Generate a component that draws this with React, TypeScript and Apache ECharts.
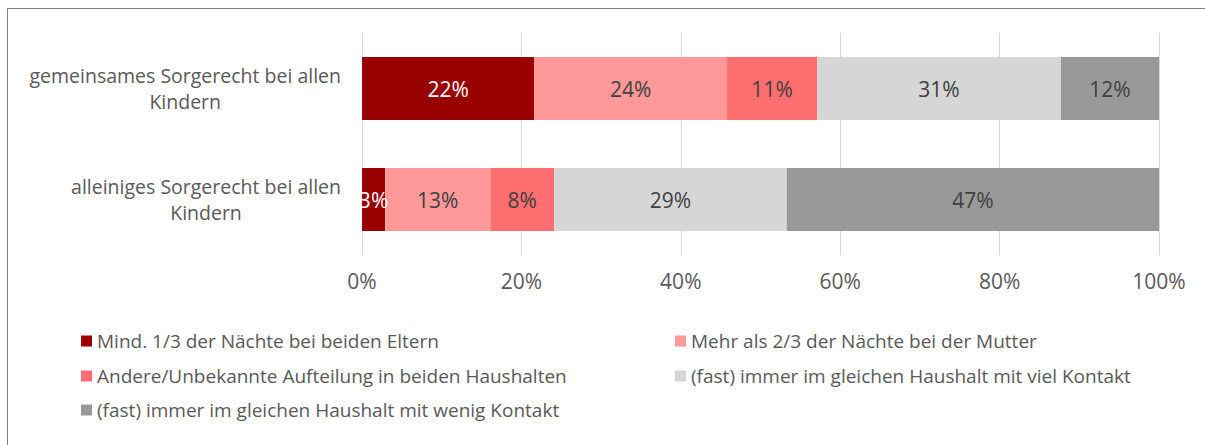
import React, { useEffect, useRef } from "react";
import * as echarts from "echarts";

const categories = [
  "gemeinsames Sorgerecht bei allen Kindern",
  "alleiniges Sorgerecht bei allen Kindern",
];
const seriesNames = [
  "Mind. 1/3 der Nächte bei beiden Eltern",
  "Mehr als 2/3 der Nächte bei der Mutter",
  "Andere/Unbekannte Aufteilung in beiden Haushalten",
  "(fast) immer im gleichen Haushalt mit viel Kontakt",
  "(fast) immer im gleichen Haushalt mit wenig Kontakt",
];
const valuesMind = [21.6, 2.9];
const valuesMutter = [24.2, 13.2];
const valuesAndere = [11.3, 8.0];
const valuesViel = [30.6, 29.2];
const valuesWenig = [12.3, 46.7];
const seriesValues = [valuesMind, valuesMutter, valuesAndere, valuesViel, valuesWenig];
const colors = ["#990000", "#FF9999", "#FF6F6F", "#D6D6D6", "#999999"];
const labelColors = ["#ffffff", "#404040", "#404040", "#404040", "#404040"];
const xTicks = [0, 20, 40, 60, 80, 100];

const FONT = "'Open Sans', 'Noto Sans', sans-serif";
const TEXT = "#595959";

export default function App() {
  const ref = useRef<HTMLDivElement>(null);
  useEffect(() => {
    if (!ref.current) return;
    const chart = echarts.init(ref.current, undefined, { renderer: "svg" });
    const legendPos = [
      { left: 81, top: 331 },
      { left: 675, top: 331 },
      { left: 81, top: 366 },
      { left: 675, top: 366 },
      { left: 81, top: 400 },
    ];
    chart.setOption({
      animation: false,
      textStyle: { fontFamily: FONT },
      grid: { left: 362, right: 46, top: 33, bottom: 190, containLabel: false },
      xAxis: {
        type: "value",
        min: xTicks[0],
        max: xTicks[xTicks.length - 1],
        interval: 20,
        axisLine: { show: false },
        axisTick: { show: false },
        splitLine: { lineStyle: { color: "#D9D9D9", width: 1 } },
        axisLabel: {
          formatter: "{value}%",
          fontSize: 21,
          color: TEXT,
          fontFamily: FONT,
          margin: 15,
        },
      },
      yAxis: {
        type: "category",
        inverse: true,
        data: categories,
        axisLine: { show: false },
        axisTick: { show: false },
        axisLabel: {
          margin: 21,
          formatter: (v: string) => {
            const i = v.lastIndexOf(" ");
            return "{c|" + v.slice(0, i) + "}\n{c|" + v.slice(i + 1) + "}";
          },
          rich: {
            c: {
              align: "center",
              fontSize: 19.5,
              color: TEXT,
              fontFamily: FONT,
              lineHeight: 26,
            },
          },
        },
      },
      legend: seriesNames.map((n, i) => ({
        data: [n],
        left: legendPos[i].left,
        top: legendPos[i].top,
        padding: 0,
        icon: "rect",
        itemWidth: 11,
        itemHeight: 11,
        selectedMode: false,
        textStyle: { fontSize: 19, color: TEXT, fontFamily: FONT, lineHeight: 20 },
      })),
      series: seriesNames.map((n, i) => ({
        name: n,
        type: "bar",
        stack: "total",
        barWidth: 63,
        data: seriesValues[i],
        itemStyle: { color: colors[i] },
        label: {
          show: true,
          position: "inside",
          formatter: (p: any) => Math.round(p.value) + "%",
          fontSize: 21,
          color: labelColors[i],
          fontFamily: FONT,
        },
      })),
      graphic: [
        {
          type: "rect",
          shape: { x: 7.5, y: 8.5, width: 1400, height: 600 },
          style: { fill: "none", stroke: "#7F7F7F", lineWidth: 1 },
          silent: true,
        },
      ],
    });
    return () => chart.dispose();
  }, []);
  return (
    <div
      ref={ref}
      style={{ position: "fixed", left: 0, top: 0, width: 1205, height: 445, background: "#fff" }}
    />
  );
}
